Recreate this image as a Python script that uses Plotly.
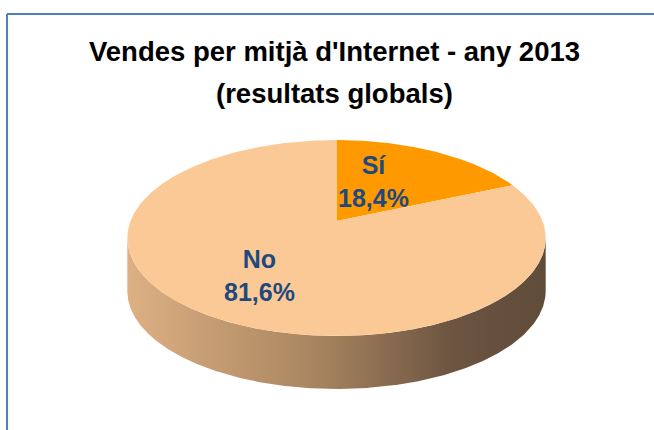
import numpy as np
import plotly.graph_objects as go

# ---- data ----
categories = ["Sí", "No"]
values = [18.4, 81.6]
top_colors = ["#FF9900", "#FAC995"]
title_lines = ["Vendes per mitjà d'Internet - any 2013", "(resultats globals)"]

# ---- geometry (pixel space) ----
W, H = 654, 430
CX, CY = 336.5, 221.0     # projected pie centre
A, B, K = 206.0, 95.0, 0.174   # radii + perspective factor
DEPTH = 53.0
FONT = "Liberation Sans, Arial, sans-serif"


def proj(theta, r=1.0):
    u = r * np.sin(theta)
    v = r * np.cos(theta)
    d = 1 + K * v
    return CX + A * u / d, CY - B * v / d


fig = go.Figure()

# side wall (front half of the cylinder)
th = np.linspace(0, 2 * np.pi, 2001)
ex, ey = proj(th)
i_l, i_r = int(np.argmin(ex)), int(np.argmax(ex))
front = th[i_r:i_l + 1]  # right extreme -> bottom -> left extreme
fx, fy = proj(front)
sx = np.concatenate([fx, fx[::-1]])
sy = np.concatenate([fy, fy[::-1] + DEPTH])
fig.add_trace(go.Scatter(
    x=sx, y=sy, mode="lines", fill="toself", line=dict(width=0),
    fillgradient=dict(type="horizontal",
                      colorscale=[[0, "#DDB083"], [0.45, "#A8855F"],
                                  [0.78, "#6C5441"], [1, "#5F4C39"]]),
    hoverinfo="skip", showlegend=False))

# top faces
total = sum(values)
start = 0.0
for cat, val, col in zip(categories, values, top_colors):
    span = 2 * np.pi * val / total
    t = np.linspace(start, start + span, 400)
    px, py = proj(t)
    fig.add_trace(go.Scatter(
        x=np.concatenate([[CX], px, [CX]]),
        y=np.concatenate([[CY], py, [CY]]),
        mode="lines", fill="toself", fillcolor=col, line=dict(width=0),
        name=cat, hoverinfo="skip", showlegend=False))
    start += span

# data labels
label_pos = {"Sí": (373, 181), "No": (259, 275)}
for cat, val in zip(categories, values):
    lx, ly = label_pos[cat]
    fig.add_annotation(
        x=lx, y=ly, xref="x", yref="y", showarrow=False,
        text=f"<b>{cat}<br>{val:.1f}%</b>".replace(".", ","),
        font=dict(family=FONT, size=25, color="#1F497D"))

# title
fig.add_annotation(x=334, y=51, xref="x", yref="y", showarrow=False,
                   text=f"<b>{title_lines[0]}</b>",
                   font=dict(family=FONT, size=27.5, color="#000000"))
fig.add_annotation(x=334, y=93, xref="x", yref="y", showarrow=False,
                   text=f"<b>{title_lines[1]}</b>",
                   font=dict(family=FONT, size=27.5, color="#000000"))

# chart border (left and top visible)
fig.add_shape(type="line", xref="paper", yref="paper", x0=7 / W, x1=7 / W,
              y0=1 - 14 / H, y1=0, line=dict(color="#4F81BD", width=2))
fig.add_shape(type="line", xref="paper", yref="paper", x0=7 / W, x1=1,
              y0=1 - 14 / H, y1=1 - 14 / H, line=dict(color="#4F81BD", width=2))

fig.update_layout(
    width=W, height=H, margin=dict(l=0, r=0, t=0, b=0),
    paper_bgcolor="white", plot_bgcolor="white",
    xaxis=dict(range=[0, W], visible=False, fixedrange=True),
    yaxis=dict(range=[H, 0], visible=False, fixedrange=True),
)

fig.write_html("out.html", config={"displayModeBar": False},
               post_script="document.body.style.margin='0';document.body.style.overflow='hidden';")
